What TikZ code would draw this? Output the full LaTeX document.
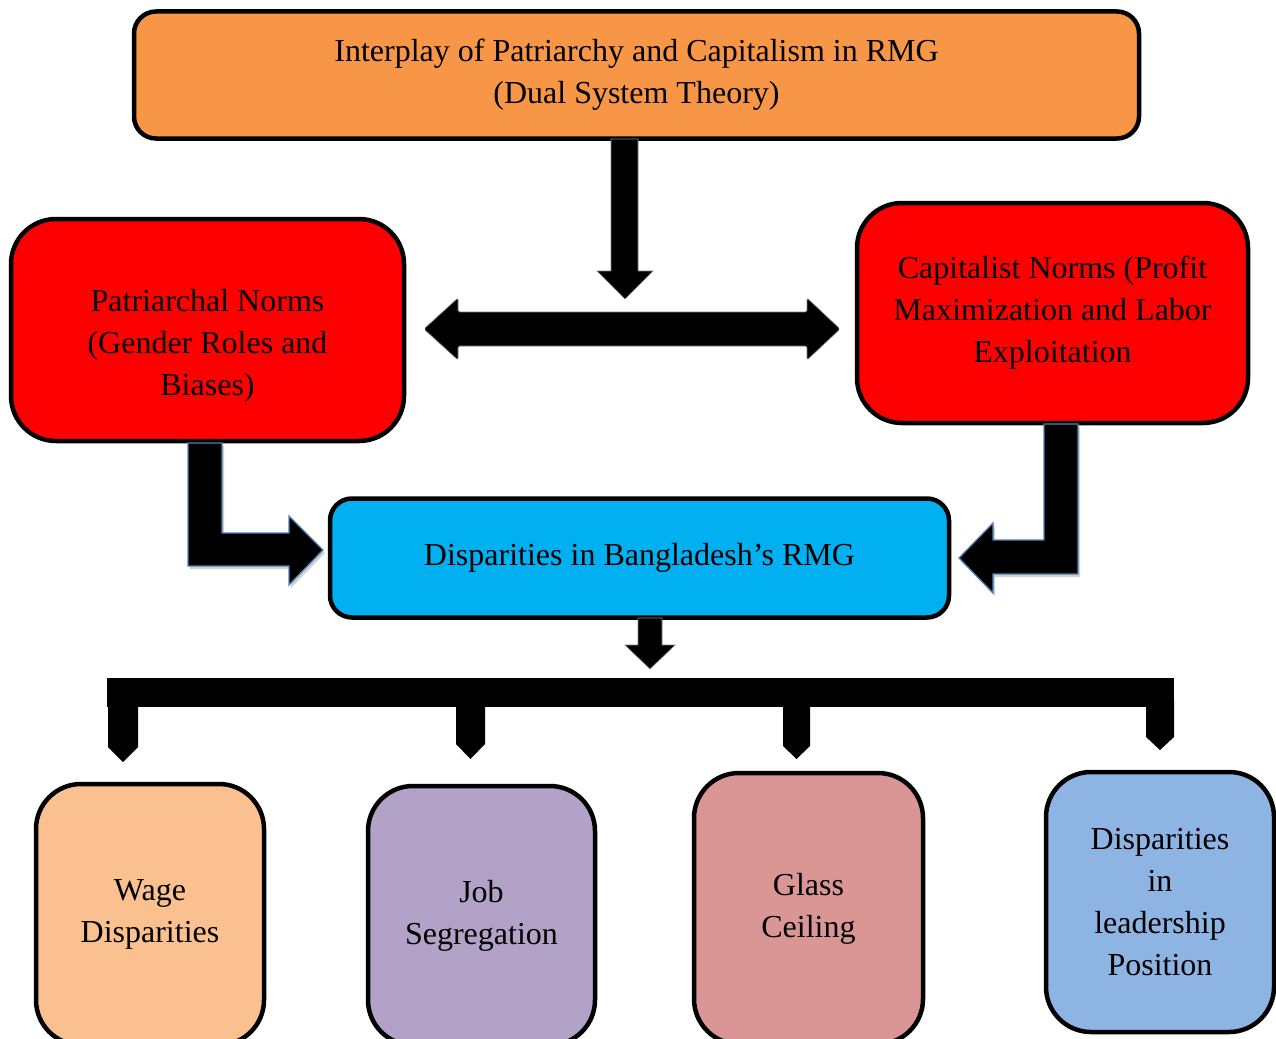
\documentclass[tikz,border=0pt]{standalone}
\usepackage{fontspec}
\setmainfont{Liberation Serif}
\definecolor{toporange}{HTML}{F79646}
\definecolor{normred}{HTML}{FF0000}
\definecolor{dispblue}{HTML}{00B0F0}
\definecolor{wagec}{HTML}{FAC090}
\definecolor{jobc}{HTML}{B2A2C7}
\definecolor{glassc}{HTML}{D99694}
\definecolor{leadc}{HTML}{8EB4E3}
\definecolor{arrowedge}{HTML}{4F81BD}
\begin{document}
\begin{tikzpicture}[x=1pt,y=-1pt,
  box/.style={draw=black,line width=4.5pt,align=center,inner sep=0pt,
    font=\fontsize{32}{42}\selectfont},
  boxtext/.style={align=center,inner sep=0pt,font=\fontsize{32}{42}\selectfont},
  blockarrow/.style={fill=black,draw=black!50,line width=0.6pt},
  bentarrow/.style={fill=black,draw=arrowedge,line width=1.3pt,line join=miter},
  shade/.style={fill=black,opacity=0.18,draw=none}]
\useasboundingbox (0,0) rectangle (1276,1038);
\clip (0,0) rectangle (1276,1038);
\fill[white] (0,0) rectangle (1276,1038);

% boxes
\node[box,fill=toporange,rounded corners=22pt,minimum width=1005pt,minimum height=127pt]
  (top) at (636.5,75) {Interplay of Patriarchy and Capitalism in RMG\\(Dual System Theory)};
\node[box,fill=normred,rounded corners=45pt,minimum width=393pt,minimum height=222pt]
  (patr) at (207.5,330) {};
\node[boxtext] (patrtext) at ([yshift=-16pt]patr.center) {Patriarchal Norms\\(Gender Roles and\\Biases)};
\node[box,fill=normred,rounded corners=45pt,minimum width=391pt,minimum height=220pt]
  (capi) at (1052.5,313) {Capitalist Norms (Profit\\Maximization and Labor\\Exploitation};
\node[box,fill=dispblue,rounded corners=22pt,minimum width=619pt,minimum height=119pt]
  (disp) at (639.5,558) {Disparities in Bangladesh’s RMG};
\node[box,fill=wagec,rounded corners=45pt,minimum width=228pt,minimum height=261pt]
  (wage) at (150,914.5) {Wage\\Disparities};
\node[box,fill=jobc,rounded corners=45pt,minimum width=227pt,minimum height=259pt]
  (job) at (481.5,915.5) {Job\\Segregation};
\node[box,fill=glassc,rounded corners=45pt,minimum width=229pt,minimum height=271pt]
  (glass) at (808.5,908.5) {Glass\\Ceiling};
\node[box,fill=leadc,rounded corners=45pt,minimum width=228pt,minimum height=260pt]
  (lead) at (1160,902) {Disparities\\in\\leadership\\Position};

% down arrow from top box
\draw[blockarrow] (611,139) -- (638,139) -- (638,271) -- (653,271) -- (625,299)
  -- (597,271) -- (611,271) -- cycle;

% double arrow between norms
\draw[blockarrow,rounded corners=1.5pt] (424,329) -- (458,298) -- (458,312) -- (807,312)
  -- (807,298) -- (840,329) -- (807,360) -- (807,346) -- (458,346) -- (458,360) -- cycle;

% bent arrows (shadows first)
\fill[shade,shift={(2,3)}] (188,443) -- (222,443) -- (222,533) -- (289,533) -- (289,516)
  -- (323,550) -- (289,585) -- (289,566) -- (188,566) -- cycle;
\draw[bentarrow] (188,443) -- (222,443) -- (222,533) -- (289,533) -- (289,516)
  -- (323,550) -- (289,585) -- (289,566) -- (188,566) -- cycle;
\fill[shade,shift={(2,3)}] (1044,424) -- (1078,424) -- (1078,574) -- (993,574) -- (993,593)
  -- (959,558) -- (993,523) -- (993,540) -- (1044,540) -- cycle;
\draw[bentarrow] (1044,424) -- (1078,424) -- (1078,574) -- (993,574) -- (993,593)
  -- (959,558) -- (993,523) -- (993,540) -- (1044,540) -- cycle;

% small arrow below disparities box
\draw[blockarrow] (638,618) -- (662,618) -- (662,645) -- (675,645) -- (650,669)
  -- (625,645) -- (638,645) -- cycle;

% distribution bus
\fill[black] (107,678) rectangle (1174,707);
\fill[black] (108,700) -- (138,700) -- (138,747) -- (123,762) -- (108,747) -- cycle;
\fill[black] (456,700) -- (485,700) -- (485,744) -- (470.5,759) -- (456,744) -- cycle;
\fill[black] (783,700) -- (810,700) -- (810,746) -- (796.5,759) -- (783,746) -- cycle;
\fill[black] (1146,700) -- (1174,700) -- (1174,737) -- (1160,750) -- (1146,737) -- cycle;
\end{tikzpicture}
\end{document}
